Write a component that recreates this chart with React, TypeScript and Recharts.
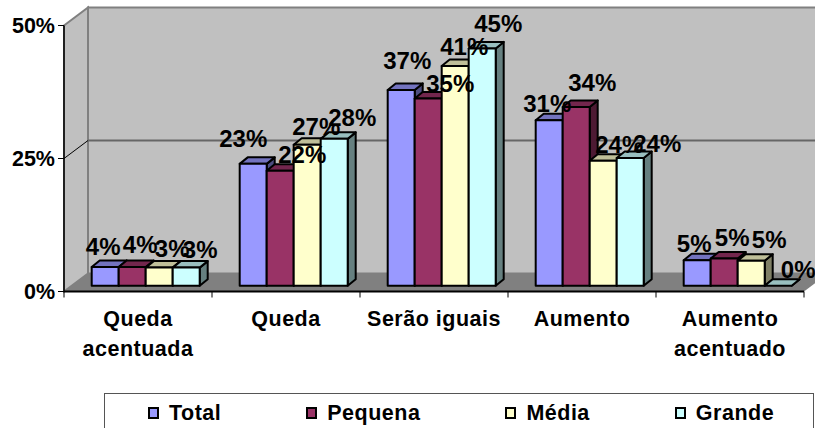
import { BarChart, Bar, XAxis, YAxis, Legend, LabelList, usePlotArea } from "recharts";

const categories = ["Queda\nacentuada", "Queda", "Serão iguais", "Aumento", "Aumento\nacentuado"];
const total = [3.5, 22.9, 36.8, 31.1, 4.8];
const pequena = [3.5, 21.6, 35.2, 33.6, 5.1];
const media = [3.4, 26.5, 41.3, 23.5, 4.7];
const grande = [3.4, 27.6, 44.6, 24, 0];
const yTicks = [0, 25, 50];

const data = categories.map((name, i) => ({
  name,
  total: total[i],
  pequena: pequena[i],
  media: media[i],
  grande: grande[i],
}));

const FONT = '"Liberation Sans", Arial, sans-serif';

// 3D look: wall depth and where the bars stand inside it
const WALL_DX = 24;
const WALL_DY = 18;
const BAR_DX = 7.7;
const BAR_DY = 5.8;
const DEPTH_X = 8;
const DEPTH_Y = 6.5;

// hand placed labels in the original, [dx, dy] from the top centre of each bar
const labelNudge = {
  total: [[-2, -21], [-10, -25], [6, -29], [-2, -17], [-3, -17]],
  pequena: [[8, -23], [22, -16], [22, -15], [16, -24], [8, -21]],
  media: [[13, -19], [9, -18], [9, -19], [16, -16], [18, -21]],
  grande: [[14, -18], [18, -21], [16, -25], [27, -15], [20, -16]],
};

function shade(hex: string, k: number) {
  const n = parseInt(hex.slice(1), 16);
  const c = [(n >> 16) & 255, (n >> 8) & 255, n & 255].map((v) => Math.round(v * k));
  return `rgb(${c.join(",")})`;
}

function Bar3D(props: any) {
  const { x, y, width, height, fill } = props;
  const l = x + BAR_DX;
  const r = l + width;
  const t = y - BAR_DY;
  const b = t + height;
  return (
    <g stroke="#000" strokeWidth={2} strokeLinejoin="round">
      <polygon
        points={`${r},${t} ${r + DEPTH_X},${t - DEPTH_Y} ${r + DEPTH_X},${b - DEPTH_Y} ${r},${b}`}
        fill={shade(fill, 0.5)}
      />
      <polygon
        points={`${l},${t} ${l + DEPTH_X},${t - DEPTH_Y} ${r + DEPTH_X},${t - DEPTH_Y} ${r},${t}`}
        fill={shade(fill, 0.75)}
      />
      {height > 0 && <rect x={l} y={t} width={width} height={height} fill={fill} />}
    </g>
  );
}

function Walls() {
  const area = usePlotArea();
  if (!area) return null;
  const left = area.x;
  const right = area.x + area.width;
  const top = area.y;
  const bottom = area.y + area.height;
  const grid = top + area.height / 2;
  const step = area.width / categories.length;
  return (
    <g>
      <rect
        x={left + WALL_DX}
        y={top - WALL_DY}
        width={area.width}
        height={area.height}
        fill="#c0c0c0"
        stroke="#808080"
        strokeWidth={2}
      />
      <polygon
        points={`${left},${top} ${left + WALL_DX},${top - WALL_DY} ${left + WALL_DX},${bottom - WALL_DY} ${left},${bottom}`}
        fill="#c0c0c0"
        stroke="#808080"
        strokeWidth={2}
      />
      <line x1={left + WALL_DX} x2={right + WALL_DX} y1={grid - WALL_DY} y2={grid - WALL_DY} stroke="#666" strokeWidth={2} />
      <line x1={left} x2={left + WALL_DX} y1={grid} y2={grid - WALL_DY} stroke="#000" strokeWidth={1} />
      <polygon
        points={`${left},${bottom} ${left + WALL_DX},${bottom - WALL_DY} ${right + WALL_DX},${bottom - WALL_DY} ${right},${bottom}`}
        fill="#808080"
      />
      {categories.map((_, i) => (
        <line key={i} x1={left + step * i} x2={left + step * i} y1={bottom} y2={bottom + 6} stroke="#000" strokeWidth={1} />
      ))}
      <line x1={right} x2={right} y1={bottom} y2={bottom + 6} stroke="#000" strokeWidth={1} />
    </g>
  );
}

function CategoryTick({ x, y, payload }: any) {
  const lines = String(payload.value).split("\n");
  return (
    <text x={x} y={y + 28} textAnchor="middle" fontFamily={FONT} fontSize={21.5} fontWeight="bold" letterSpacing={0.5} fill="#000">
      {lines.map((line, i) => (
        <tspan key={i} x={x} dy={i === 0 ? 0 : 30}>
          {line}
        </tspan>
      ))}
    </text>
  );
}

function barLabel(series: keyof typeof labelNudge) {
  return function BarLabel(props: any) {
    const { x, y, width, value, index } = props;
    const [dx, dy] = labelNudge[series][index];
    return (
      <text
        x={x + BAR_DX + width / 2 + dx}
        y={y - BAR_DY + dy}
        textAnchor="middle"
        dominantBaseline="central"
        fontFamily={FONT}
        fontSize={24}
        fontWeight="bold"
        fill="#000"
      >
        {Math.round(value)}%
      </text>
    );
  };
}

function LegendBox({ payload }: any) {
  return (
    <div
      style={{
        boxSizing: "border-box",
        width: 710,
        height: 50,
        border: "1px solid #555",
        background: "#fff",
        display: "flex",
        alignItems: "flex-start",
        paddingLeft: 43,
        paddingTop: 6,
        gap: 85,
        fontFamily: FONT,
        fontSize: 21.5,
        fontWeight: "bold",
        letterSpacing: 0.5,
        color: "#000",
        lineHeight: "26px",
      }}
    >
      {(payload || []).map((item: any) => (
        <div key={item.value} style={{ display: "flex", alignItems: "center" }}>
          <span
            style={{
              display: "inline-block",
              boxSizing: "border-box",
              width: 11,
              height: 12,
              marginRight: 10,
              border: "2px solid #000",
              background: item.color,
            }}
          />
          {item.value}
        </div>
      ))}
    </div>
  );
}

export default function App() {
  return (
    <div style={{ position: "absolute", left: 0, top: 0, width: 815, height: 428, overflow: "hidden" }}>
      <BarChart
        width={815}
        height={428}
        data={data}
        barCategoryGap={20}
        barGap={0}
        margin={{ top: 25.5, right: 11, bottom: 56.5, left: 0 }}
      >
        <Walls />
        <XAxis
          dataKey="name"
          interval={0}
          height={80}
          tickLine={false}
          tick={<CategoryTick />}
          tickMargin={0}
          axisLine={{ stroke: "#000", strokeWidth: 2 }}
        />
        <YAxis
          width={64}
          domain={[0, 50]}
          ticks={yTicks}
          tickFormatter={(v) => `${v}%`}
          tickSize={6}
          tickMargin={3}
          tick={{ fill: "#000", fontFamily: FONT, fontSize: 21.5, fontWeight: "bold" }}
          axisLine={{ stroke: "#000", strokeWidth: 1.5 }}
          tickLine={{ stroke: "#000" }}
        />
        <Legend
          layout="horizontal"
          verticalAlign="middle"
          align="center"
          itemSorter={null}
          content={<LegendBox />}
          wrapperStyle={{ left: 104, top: 393, width: 710 }}
        />
        <Bar dataKey="total" name="Total" fill="#9999ff" shape={<Bar3D />} isAnimationActive={false}>
          <LabelList dataKey="total" content={barLabel("total")} />
        </Bar>
        <Bar dataKey="pequena" name="Pequena" fill="#993366" shape={<Bar3D />} isAnimationActive={false}>
          <LabelList dataKey="pequena" content={barLabel("pequena")} />
        </Bar>
        <Bar dataKey="media" name="Média" fill="#ffffcc" shape={<Bar3D />} isAnimationActive={false}>
          <LabelList dataKey="media" content={barLabel("media")} />
        </Bar>
        <Bar dataKey="grande" name="Grande" fill="#ccffff" shape={<Bar3D />} isAnimationActive={false}>
          <LabelList dataKey="grande" content={barLabel("grande")} />
        </Bar>
      </BarChart>
    </div>
  );
}
